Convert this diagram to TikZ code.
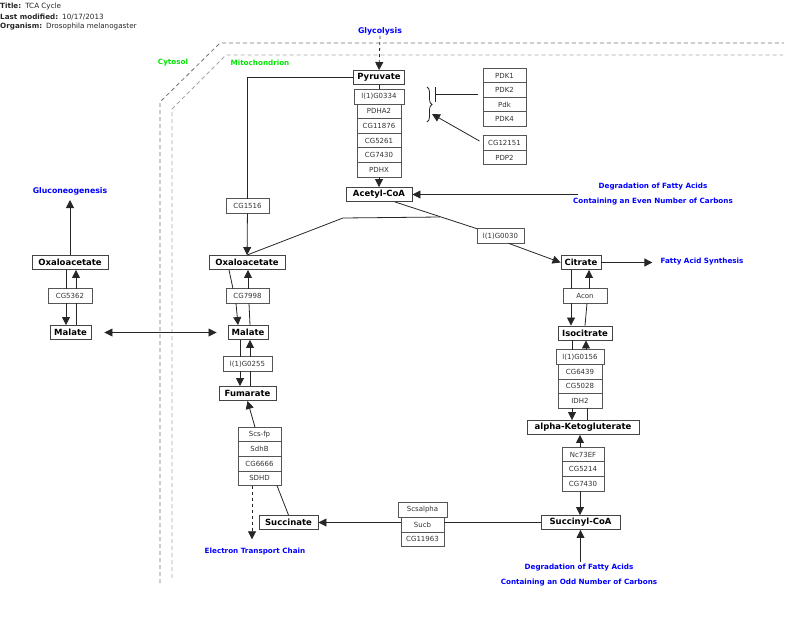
\documentclass[tikz,border=0pt]{standalone}
\usepackage{fontspec}
\setmainfont{DejaVu Sans}
\usetikzlibrary{arrows.meta, positioning, decorations.pathreplacing}
\definecolor{pathblue}{HTML}{0000FF}
\definecolor{compgreen}{HTML}{00E600}
\definecolor{boxline}{HTML}{444444}
\definecolor{geneline}{HTML}{555555}

\begin{document}
\begin{tikzpicture}[
    x=1pt, y=-1pt,
    every node/.style={font=\fontsize{7}{8}\selectfont},
    hdr/.style={inner sep=0pt, anchor=west, text=black!85, font=\fontsize{7.2}{8}\selectfont},
    metab/.style={
        rectangle,
        draw=boxline,
        fill=white,
        line width=0.9pt,
        inner sep=0pt,
        minimum height=14pt,
        font=\fontsize{8.5}{10}\selectfont\bfseries
    },
    gene/.style={
        rectangle,
        draw=geneline,
        fill=white,
        line width=0.8pt,
        inner sep=0pt,
        outer sep=0pt,
        minimum height=14.6pt,
        text=black!80
    },
    pathway/.style={text=pathblue, align=center, inner sep=1pt, font=\fontsize{7.2}{15}\selectfont\bfseries},
    bigpathway/.style={text=pathblue, inner sep=1pt, font=\fontsize{7.8}{9}\selectfont\bfseries},
    comp/.style={text=compgreen, font=\fontsize{7.2}{8}\selectfont\bfseries},
    outerwall/.style={draw=black!55, line width=0.8pt, dash pattern=on 4pt off 3pt},
    innerwall/.style={draw=black!35, line width=0.8pt, dash pattern=on 4pt off 3pt},
    conn/.style={line width=0.8pt, draw=black!85},
    arrow/.style={line width=0.8pt, draw=black!85, -{Triangle[length=8pt, width=8pt]}},
    inhibit/.style={line width=0.8pt, draw=black!85, -{Bar[width=15pt, line width=1pt]}}
]
\useasboundingbox (0,0) rectangle (795,624);

% header
\node[hdr] (title) at (0,7) {\textbf{Title:}\hspace{4pt}TCA Cycle};
\node[hdr] (modified) at (0,17) {\textbf{Last modified:}\hspace{4pt}10/17/2013};
\node[hdr] (organism) at (0,27) {\textbf{Organism:}\hspace{4pt}Drosophila melanogaster};

% compartments
\draw[outerwall] (160,583) -- (160,102) -- (220,43) -- (784,43);
\draw[innerwall] (172,578) -- (172,109) -- (226,55) -- (783,55);
\node[comp] (cytosol) at (173,63) {Cytosol};
\node[comp] (mito) at (260,63) {Mitochondrion};

% pathways
\node[bigpathway] (glyco) at (380,31) {Glycolysis};
\node[bigpathway] (gluco) at (70,191) {Gluconeogenesis};
\node[pathway] (even) at (653,194) {Degradation of Fatty Acids\\Containing an Even Number of Carbons};
\node[pathway] (odd) at (579,575.5) {Degradation of Fatty Acids\\Containing an Odd Number of Carbons};
\node[pathway] (fas) at (702,262) {Fatty Acid Synthesis};
\node[pathway] (etc) at (255,552) {Electron Transport Chain};
\coordinate (evenstart) at (578,194.5);
\coordinate (oddstart) at (580.5,562);

% metabolites
\node[metab, minimum width=51pt] (pyruvate) at (379,77.5) {Pyruvate};
\node[metab, minimum width=66pt] (acetyl) at (379,194.5) {Acetyl-CoA};
\node[metab, minimum width=40pt] (citrate) at (581,262.5) {Citrate};
\node[metab, minimum width=54pt] (isocit) at (585,333) {Isocitrate};
\node[metab, minimum width=112pt] (akg) at (583,427.5) {alpha-Ketogluterate};
\node[metab, minimum width=79pt] (succoa) at (580.5,522.5) {Succinyl-CoA};
\node[metab, minimum width=59pt] (succinate) at (288.5,522.5) {Succinate};
\node[metab, minimum width=57pt] (fumarate) at (247.5,393.5) {Fumarate};
\node[metab, minimum width=40pt] (malate2) at (248,332.5) {Malate};
\node[metab, minimum width=76pt] (oaa2) at (247,262.5) {Oxaloacetate};
\node[metab, minimum width=76pt] (oaa1) at (70,262.5) {Oxaloacetate};
\node[metab, minimum width=41pt] (malate1) at (70.5,332.5) {Malate};

% enzymes
\node[gene, minimum width=50pt, minimum height=15pt] (pdh1) at (379,96.5) {l(1)G0334};
\node[gene, minimum width=44pt, below=0pt of pdh1] (pdh2) {PDHA2};
\node[gene, minimum width=44pt, below=0pt of pdh2] (pdh3) {CG11876};
\node[gene, minimum width=44pt, below=0pt of pdh3] (pdh4) {CG5261};
\node[gene, minimum width=44pt, below=0pt of pdh4] (pdh5) {CG7430};
\node[gene, minimum width=44pt, below=0pt of pdh5] (pdh6) {PDHX};

\node[gene, minimum width=43pt, minimum height=14.5pt] (pdk1) at (504.5,75.5) {PDK1};
\node[gene, minimum width=43pt, minimum height=14.5pt, below=0pt of pdk1] (pdk2) {PDK2};
\node[gene, minimum width=43pt, minimum height=14.5pt, below=0pt of pdk2] (pdk3) {Pdk};
\node[gene, minimum width=43pt, minimum height=14.5pt, below=0pt of pdk3] (pdk4) {PDK4};
\node[gene, minimum width=43pt, minimum height=14.5pt] (pdp1) at (504.5,143) {CG12151};
\node[gene, minimum width=43pt, minimum height=14.5pt, below=0pt of pdp1] (pdp2) {PDP2};

\node[gene, minimum width=43pt] (cg1516) at (247.5,206) {CG1516};
\node[gene, minimum width=47pt] (cs) at (500.5,236) {l(1)G0030};
\node[gene, minimum width=44pt] (acon) at (585,296) {Acon};

\node[gene, minimum width=48pt] (icd1) at (580,357) {l(1)G0156};
\node[gene, minimum width=44pt, below=0pt of icd1] (icd2) {CG6439};
\node[gene, minimum width=44pt, below=0pt of icd2] (icd3) {CG5028};
\node[gene, minimum width=44pt, below=0pt of icd3] (icd4) {IDH2};

\node[gene, minimum width=42pt] (kg1) at (583,454.5) {Nc73EF};
\node[gene, minimum width=42pt, below=0pt of kg1] (kg2) {CG5214};
\node[gene, minimum width=42pt, below=0pt of kg2] (kg3) {CG7430};

\node[gene, minimum width=49pt] (scs1) at (422.5,510) {Scsalpha};
\node[gene, minimum width=43pt, below=0pt of scs1] (scs2) {Sucb};
\node[gene, minimum width=43pt, below=0pt of scs2] (scs3) {CG11963};

\node[gene, minimum width=43pt] (sdh1) at (259.5,434.5) {Scs-fp};
\node[gene, minimum width=43pt, below=0pt of sdh1] (sdh2) {SdhB};
\node[gene, minimum width=43pt, below=0pt of sdh2] (sdh3) {CG6666};
\node[gene, minimum width=43pt, below=0pt of sdh3] (sdh4) {SDHD};

\node[gene, minimum width=49pt] (fh) at (247.5,364) {l(1)G0255};
\node[gene, minimum width=43pt] (mdh2) at (247.5,296) {CG7998};
\node[gene, minimum width=44pt] (mdh1) at (70,296) {CG5362};

\coordinate (pdhreg) at (435,94);
\coordinate (pdhact) at (432,114);
\coordinate (bend) at (343,218);
\coordinate (join) at (440,217);

% pyruvate dehydrogenase
\draw[arrow, dashed] (glyco.south) -- (pyruvate.north);
\draw[conn] (pyruvate) -- (pdh1);
\draw[arrow] (pdh6) -- (acetyl);
\draw[conn, decorate, decoration={brace, amplitude=5pt}] (427,87) -- (427,122);
\draw[inhibit, shorten <=5pt] ([yshift=-4pt]pdk2.west) -- (pdhreg);
\draw[arrow, shorten <=4pt] (pdp1.west) -- (pdhact);
\draw[arrow] (evenstart) -- (acetyl.east);

% into the cycle
\draw[conn] (pyruvate.west) -| (cg1516.north);
\draw[arrow] (cg1516) -- (oaa2);
\draw[conn] ([xshift=16pt]acetyl.south) -- (cs.north west);
\draw[conn] (oaa2.north) -- (bend) -- (join);
\draw[arrow] ([xshift=8pt]cs.south) -- (citrate.west);
\draw[arrow, shorten >=7pt] (citrate.east) -- (citrate.east -| fas.west);

% citrate to isocitrate
\draw[conn] ([xshift=-10pt]citrate.south) -- ([xshift=-14pt]acon.north);
\draw[arrow] ([xshift=-14pt]acon.south) -- ([xshift=-14pt]isocit.north);
\draw[arrow] ([xshift=4pt]acon.north) -- ([xshift=8pt]citrate.south);
\draw[conn] (isocit.north) -- ([xshift=2pt]acon.south);

% isocitrate to alpha-ketogluterate
\draw[conn] ([xshift=-13pt]isocit.south) -- ([xshift=-8pt]icd1.north);
\draw[arrow] ([xshift=-8pt]icd4.south) -- ([xshift=-11pt]akg.north);
\draw[arrow] ([xshift=6pt]icd1.north) -- ([xshift=1pt]isocit.south);
\draw[conn] ([xshift=4pt]akg.north) -- ([xshift=7pt]icd4.south);

% to succinyl-CoA and succinate
\draw[arrow] ([xshift=-3pt]kg1.north) -- ([xshift=-3pt]akg.south);
\draw[arrow] ([xshift=-3pt]kg3.south) -- ([xshift=-0.5pt]succoa.north);
\draw[arrow] (oddstart) -- (succoa.south);
\draw[conn] (succoa.west) -- (succoa.west -| scs2.east);
\draw[arrow] (scs2.west |- succinate.east) -- (succinate.east);

% succinate to fumarate
\draw[conn] (succinate.north) -- ([xshift=17.5pt]sdh4.south);
\draw[arrow, dashed, shorten >=8pt] ([xshift=-7.5pt]sdh4.south) -- ([xshift=-3pt]etc.north);
\draw[arrow] ([xshift=-4.5pt]sdh1.north) -- (fumarate.south);

% fumarate to malate
\draw[conn] ([xshift=-8pt]malate2.south) -- ([xshift=-7.5pt]fh.north);
\draw[arrow] ([xshift=-7.5pt]fh.south) -- ([xshift=-7.5pt]fumarate.north);
\draw[arrow] ([xshift=2.5pt]fh.north) -- ([xshift=2pt]malate2.south);
\draw[conn] ([xshift=2.5pt]fumarate.north) -- ([xshift=2.5pt]fh.south);

% malate to oxaloacetate
\draw[conn] ([xshift=-18pt]oaa2.south) -- ([xshift=-14.5pt]mdh2.north);
\draw[arrow] ([xshift=-11.5pt]mdh2.south) -- ([xshift=-10pt]malate2.north);
\draw[arrow] ([xshift=0.5pt]mdh2.north) -- ([xshift=1pt]oaa2.south);
\draw[conn] ([xshift=2pt]malate2.north) -- ([xshift=1.5pt]mdh2.south);

% cytosol
\draw[conn] ([xshift=-4pt]oaa1.south) -- ([xshift=-4pt]mdh1.north);
\draw[arrow] ([xshift=-4pt]mdh1.south) -- ([xshift=-4.5pt]malate1.north);
\draw[arrow] ([xshift=6pt]mdh1.north) -- ([xshift=6pt]oaa1.south);
\draw[conn] ([xshift=5.5pt]malate1.north) -- ([xshift=6pt]mdh1.south);
\draw[arrow, shorten >=4pt] (oaa1.north) -- (gluco.south);
\draw[line width=0.8pt, draw=black!85, {Triangle[length=8pt, width=8pt]}-{Triangle[length=8pt, width=8pt]}, shorten <=13pt, shorten >=11pt] (malate1.east) -- (malate2.west);

\end{tikzpicture}
\end{document}
